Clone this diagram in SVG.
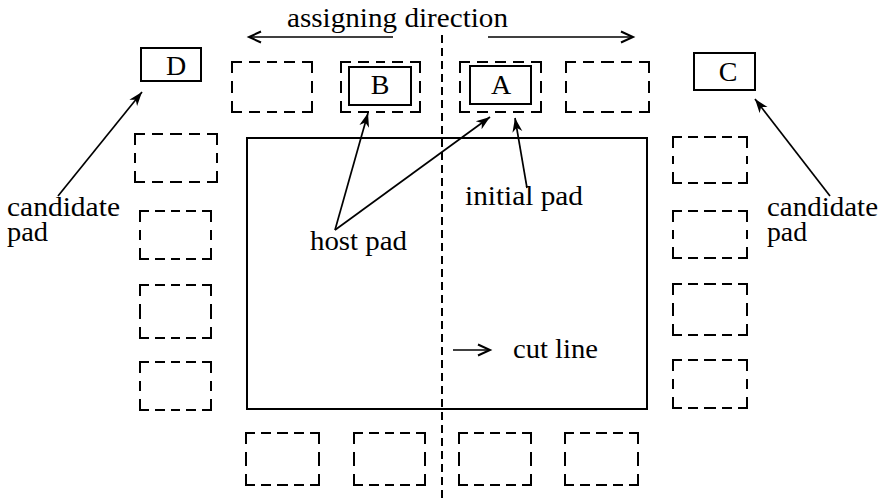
<svg xmlns="http://www.w3.org/2000/svg" width="879" height="502" viewBox="0 0 879 502">
  <style>
    .bg { fill: #ffffff; }
    .solid { fill: none; stroke: #000; stroke-width: 2; }
    .hw { fill: none; stroke: #000; stroke-width: 2; stroke-linecap: square; stroke-dasharray: 9 9; }
    .hn { fill: none; stroke: #000; stroke-width: 2; stroke-linecap: square; stroke-dasharray: 8 8; }
    .v  { fill: none; stroke: #000; stroke-width: 2; stroke-linecap: square; stroke-dasharray: 10 10; }
    .cut { fill: none; stroke: #000; stroke-width: 2; stroke-dasharray: 8 5; }
    .lead { fill: none; stroke: #000; stroke-width: 1.7; }
    text { font-family: "Liberation Serif", "Times New Roman", serif; font-size: 27px; fill: #000; }
    .pin { text-anchor: middle; font-size: 28px; }
  </style>
  <defs>
    <marker id="open" markerUnits="userSpaceOnUse" markerWidth="16" markerHeight="14" refX="13" refY="7" orient="auto">
      <path d="M1,1.5 L13,7 L1,12.5" fill="none" stroke="#000" stroke-width="2"/>
    </marker>
    <marker id="dart" markerUnits="userSpaceOnUse" markerWidth="16" markerHeight="12" refX="14" refY="6" orient="auto">
      <path d="M14,6 L0,1 L4,6 L0,11 Z" fill="#000"/>
    </marker>
  </defs>

  <rect class="bg" x="0" y="0" width="879" height="502"/>

  <!-- die outline and cut line -->
  <g id="die">
    <rect class="solid" x="247" y="138" width="400" height="271"/>
  </g>
  <g id="cut-line">
    <line class="cut" x1="442" y1="35" x2="442" y2="502"/>
  </g>

  <!-- top row of pad slots -->
  <g id="slot-top-1">
    <path class="hw" d="M232 62H272M312 62H272M232 112H272M312 112H272"/>
    <path class="v" d="M232 62V87M232 112V87M312 62V87M312 112V87"/>
  </g>
  <g id="slot-B">
    <path class="hw" d="M341 62H380.5M420 62H380.5M341 112H380.5M420 112H380.5"/>
    <path class="v" d="M341 62V87M341 112V87M420 62V87M420 112V87"/>
    <rect class="solid" x="349" y="67" width="62" height="38"/>
    <text class="pin" x="380" y="94">B</text>
  </g>
  <g id="slot-A">
    <path class="hw" d="M460 62H500.5M541 62H500.5M460 112H500.5M541 112H500.5"/>
    <path class="v" d="M460 62V87M460 112V87M541 62V87M541 112V87"/>
    <rect class="solid" x="470" y="66" width="61" height="38"/>
    <text class="pin" x="501" y="94">A</text>
  </g>
  <g id="slot-top-4">
    <path class="hw" d="M566 62H607.5M649 62H607.5M566 112H607.5M649 112H607.5"/>
    <path class="v" d="M566 62V87M566 112V87M649 62V87M649 112V87"/>
  </g>

  <!-- candidate pads -->
  <g id="pad-D">
    <rect class="solid" x="141" y="48" width="60" height="33"/>
    <text class="pin" x="176" y="75">D</text>
  </g>
  <g id="pad-C">
    <rect class="solid" x="694" y="53" width="61" height="37"/>
    <text class="pin" x="728" y="81">C</text>
  </g>

  <!-- left column of pad slots -->
  <g id="slot-left-1">
    <path class="hw" d="M135 134H176M217 134H176M135 182H176M217 182H176"/>
    <path class="v" d="M135 134V158M135 182V158M217 134V158M217 182V158"/>
  </g>
  <g id="slot-left-2">
    <path class="hn" d="M140 211H175.5M211 211H175.5M140 259H175.5M211 259H175.5"/>
    <path class="v" d="M140 211V235M140 259V235M211 211V235M211 259V235"/>
  </g>
  <g id="slot-left-3">
    <path class="hn" d="M140 285H175.5M211 285H175.5M140 338H175.5M211 338H175.5"/>
    <path class="v" d="M140 285V311.5M140 338V311.5M211 285V311.5M211 338V311.5"/>
  </g>
  <g id="slot-left-4">
    <path class="hn" d="M140 362H175.5M211 362H175.5M140 410H175.5M211 410H175.5"/>
    <path class="v" d="M140 362V386M140 410V386M211 362V386M211 410V386"/>
  </g>

  <!-- right column of pad slots -->
  <g id="slot-right-1">
    <path class="hn" d="M673 137H710M747 137H710M673 183H710M747 183H710"/>
    <path class="v" d="M673 137V160M673 183V160M747 137V160M747 183V160"/>
  </g>
  <g id="slot-right-2">
    <path class="hn" d="M673 211H710M747 211H710M673 258H710M747 258H710"/>
    <path class="v" d="M673 211V234.5M673 258V234.5M747 211V234.5M747 258V234.5"/>
  </g>
  <g id="slot-right-3">
    <path class="hn" d="M673 284H710M747 284H710M673 335H710M747 335H710"/>
    <path class="v" d="M673 284V309.5M673 335V309.5M747 284V309.5M747 335V309.5"/>
  </g>
  <g id="slot-right-4">
    <path class="hn" d="M673 360H710M747 360H710M673 408H710M747 408H710"/>
    <path class="v" d="M673 360V384M673 408V384M747 360V384M747 408V384"/>
  </g>

  <!-- bottom row of pad slots -->
  <g id="slot-bottom-1">
    <path class="hn" d="M246 433H282.5M319 433H282.5M246 485H282.5M319 485H282.5"/>
    <path class="v" d="M246 433V459M246 485V459M319 433V459M319 485V459"/>
  </g>
  <g id="slot-bottom-2">
    <path class="hn" d="M354 433H389.5M425 433H389.5M354 485H389.5M425 485H389.5"/>
    <path class="v" d="M354 433V459M354 485V459M425 433V459M425 485V459"/>
  </g>
  <g id="slot-bottom-3">
    <path class="hn" d="M459 433H495M531 433H495M459 485H495M531 485H495"/>
    <path class="v" d="M459 433V459M459 485V459M531 433V459M531 485V459"/>
  </g>
  <g id="slot-bottom-4">
    <path class="hn" d="M565 433H601.5M638 433H601.5M565 485H601.5M638 485H601.5"/>
    <path class="v" d="M565 433V459M565 485V459M638 433V459M638 485V459"/>
  </g>

  <!-- labels -->
  <g id="labels">
    <text x="287" y="27" textLength="221" lengthAdjust="spacingAndGlyphs">assigning direction</text>
    <text x="7" y="216" textLength="113" lengthAdjust="spacingAndGlyphs">candidate</text>
    <text x="7" y="241" textLength="41" lengthAdjust="spacingAndGlyphs">pad</text>
    <text x="767" y="216" textLength="111" lengthAdjust="spacingAndGlyphs">candidate</text>
    <text x="767" y="241" textLength="40" lengthAdjust="spacingAndGlyphs">pad</text>
    <text x="310" y="250" textLength="97" lengthAdjust="spacingAndGlyphs">host pad</text>
    <text x="465" y="205" textLength="118" lengthAdjust="spacingAndGlyphs">initial pad</text>
    <text x="513" y="358" textLength="85" lengthAdjust="spacingAndGlyphs">cut line</text>
  </g>

  <!-- connectors -->
  <g id="connectors">
    <line class="lead" x1="393" y1="37" x2="249" y2="37" marker-end="url(#open)"/>
    <line class="lead" x1="488" y1="37" x2="633" y2="37" marker-end="url(#open)"/>
    <line class="lead" x1="58" y1="196" x2="142" y2="92" marker-end="url(#dart)"/>
    <line class="lead" x1="830" y1="196" x2="755" y2="99" marker-end="url(#dart)"/>
    <line class="lead" x1="335" y1="230" x2="368" y2="113" marker-end="url(#dart)"/>
    <line class="lead" x1="335" y1="230" x2="490" y2="117" marker-end="url(#dart)"/>
    <line class="lead" x1="527" y1="188" x2="515" y2="118" marker-end="url(#dart)"/>
    <line class="lead" x1="453" y1="350" x2="490" y2="350" marker-end="url(#open)"/>
  </g>
</svg>
